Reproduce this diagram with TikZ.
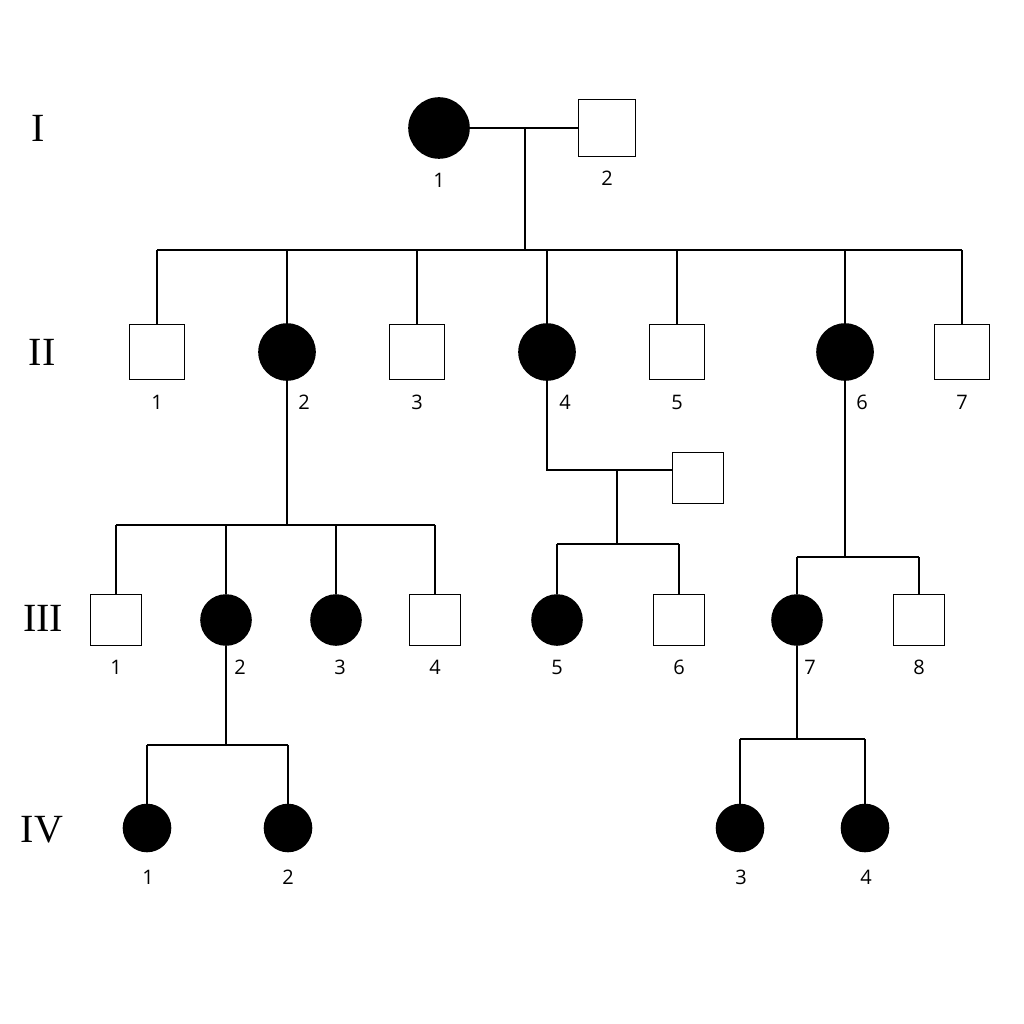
\documentclass[tikz,border=0pt]{standalone}
\usepackage{fontspec}
\setmainfont{Liberation Serif}
\newfontfamily\lblfont{Open Sans}
\begin{document}
\begin{tikzpicture}[x=1pt,y=-1pt,line width=1.6pt,
  aff/.style={circle,fill=black,draw=black,inner sep=0pt,minimum size=#1},
  male/.style={rectangle,draw=black,fill=white,inner sep=0pt,minimum size=#1},
  num/.style={font=\lblfont\fontsize{20}{20}\selectfont,inner sep=0pt},
  gen/.style={font=\fontsize{40}{40}\selectfont,inner sep=0pt}]
\useasboundingbox[fill=white] (0,0) rectangle (1024,1024);
\node[gen] (gI) at (38,128) {I};
\node[gen] (gII) at (42,352) {II};
\node[gen] (gIII) at (43,618) {III};
\node[gen] (gIV) at (42,830) {IV};
% Gen I
\node[aff=60pt] (i1) at (439,128) {};
\node[male=57pt] (i2) at (607,128) {};
\draw (i1) -- (i2);
\coordinate (m1) at (525,128); \coordinate (s1) at (525,250);
\draw (m1) -- (s1);
\node[num] at (439,180) {1}; \node[num] at (607,178) {2};
\coordinate (sa) at (157,250); \coordinate (sb) at (962,250);
\draw (sa) -- (sb);
% Gen II
\node[male=55pt] (ii1) at (157,352) {};
\node[aff=56pt] (ii2) at (287,352) {};
\node[male=55pt] (ii3) at (417,352) {};
\node[aff=56pt] (ii4) at (547,352) {};
\node[male=55pt] (ii5) at (677,352) {};
\node[aff=56pt] (ii6) at (845,352) {};
\node[male=55pt] (ii7) at (962,352) {};
\foreach \n/\x in {ii1/157,ii2/287,ii3/417,ii4/547,ii5/677,ii6/845,ii7/962}
  \draw (\x,250) -- (\n);
\foreach \t/\x in {1/157,2/304,3/417,4/565,5/677,6/862,7/962}
  \node[num] at (\x,402) {\t};
% II2 children
\coordinate (c2) at (287,525);
\draw (ii2) -- (c2);
\draw (116,525) -- (435,525);
\node[male=51pt] (iii1) at (116,620) {};
\node[aff=50pt] (iii2) at (226,620) {};
\node[aff=50pt] (iii3) at (336,620) {};
\node[male=51pt] (iii4) at (435,620) {};
\foreach \n/\x in {iii1/116,iii2/226,iii3/336,iii4/435} \draw (\x,525) -- (\n);
% II4 marriage
\node[male=51pt] (sp) at (698,478) {};
\coordinate (k4) at (547,470);
\draw (ii4) -- (k4) -- (sp.west |- k4);
\draw (617,470) -- (617,544);
\draw (557,544) -- (679,544);
\node[aff=50pt] (iii5) at (557,620) {};
\node[male=51pt] (iii6) at (679,620) {};
\draw (557,544) -- (iii5); \draw (679,544) -- (iii6);
% II6 children
\coordinate (c6) at (845,557);
\draw (ii6) -- (c6);
\draw (797,557) -- (919,557);
\node[aff=50pt] (iii7) at (797,620) {};
\node[male=51pt] (iii8) at (919,620) {};
\draw (797,557) -- (iii7); \draw (919,557) -- (iii8);
\foreach \t/\x in {1/116,2/240,3/340,4/435,5/557,6/679,7/810,8/919}
  \node[num] at (\x,667) {\t};
% Gen IV
\coordinate (c32) at (226,745);
\draw (iii2) -- (c32);
\draw (147,745) -- (288,745);
\node[aff=47pt] (iv1) at (147,828) {};
\node[aff=47pt] (iv2) at (288,828) {};
\draw (147,745) -- (iv1); \draw (288,745) -- (iv2);
\coordinate (c37) at (797,739);
\draw (iii7) -- (c37);
\draw (740,739) -- (865,739);
\node[aff=47pt] (iv3) at (740,828) {};
\node[aff=47pt] (iv4) at (865,828) {};
\draw (740,739) -- (iv3); \draw (865,739) -- (iv4);
\foreach \t/\x in {1/148,2/288,3/741,4/866}
  \node[num] at (\x,877) {\t};
\end{tikzpicture}
\end{document}
